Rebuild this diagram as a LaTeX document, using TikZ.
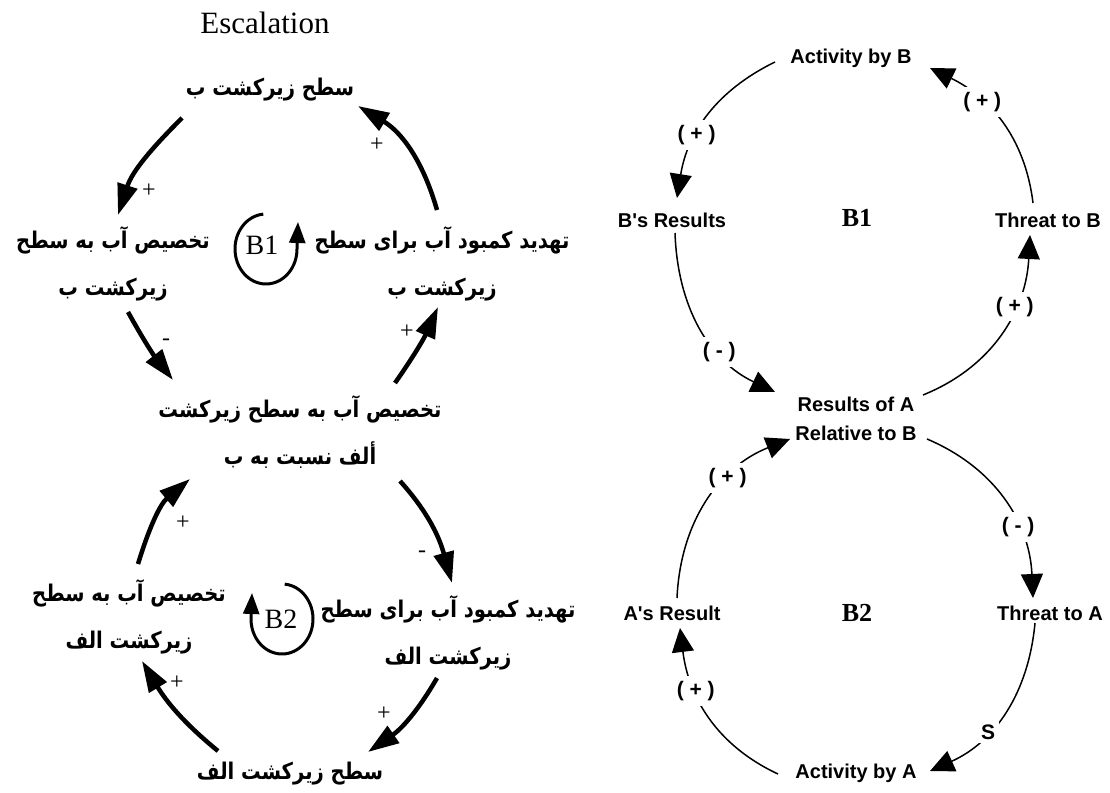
\documentclass[tikz,border=0pt]{standalone}
\usepackage{fontspec}
\setmainfont{Liberation Serif}
\newfontfamily\fa[Script=Arabic,FakeStretch=0.85]{DejaVu Sans}
\newfontfamily\sans{Liberation Sans}
\TeXXeTstate=1
\usetikzlibrary{arrows.meta}
\begin{document}
\begin{tikzpicture}[x=1pt,y=1pt,
  fatext/.style={font=\fontsize{23}{47}\selectfont\fa\bfseries, align=center, inner sep=2pt},
  entext/.style={font=\fontsize{20}{29}\selectfont\sans\bfseries, align=center, inner sep=3pt},
  sign/.style={font=\fontsize{24}{24}\selectfont, inner sep=0pt},
  fat/.style={line width=4.5pt, -{Triangle[length=31pt,width=20pt]}},
  loopar/.style={line width=3pt, -{Triangle[length=21pt,width=16pt]}},
  cld/.style={line width=1.5pt, -{Triangle[length=24pt,width=22pt]}},
  pol/.style={fill=white, inner sep=5pt, font=\fontsize{21}{21}\selectfont\sans\bfseries},
  loopname/.style={font=\fontsize{28}{28}\selectfont},
  rloopname/.style={font=\fontsize{26}{26}\selectfont\bfseries}]
\useasboundingbox (0,0) rectangle (1110,792);

% ---------- left: Persian causal loop diagram ----------
\node[font=\fontsize{31}{31}\selectfont] (title) at (265,769) {Escalation};

\node[fatext] (T1) at (270,702) {\beginR سطح زیرکشت ب\endR};
\node[fatext] (L1) at (113,528.5) {\beginR تخصیص آب به سطح\endR\\\beginR زیرکشت ب\endR};
\node[fatext] (R1) at (442,528.5) {\beginR تهدید کمبود آب برای سطح\endR\\\beginR زیرکشت ب\endR};
\node[fatext] (C) at (300,360) {\beginR تخصیص آب به سطح زیرکشت\endR\\\beginR ألف نسبت به ب\endR};
\node[fatext] (R2) at (448,159.5) {\beginR تهدید کمبود آب برای سطح\endR\\\beginR زیرکشت الف\endR};
\node[fatext] (L2) at (129,175) {\beginR تخصیص آب به سطح\endR\\\beginR زیرکشت الف\endR};
\node[fatext] (T2) at (290,18) {\beginR سطح زیرکشت الف\endR};

% loop markers
\node[loopname] (b1) at (262,547) {B1};
\draw[loopar] ([shift={(4,-4)}]b1.center) ++(95:31pt and 35pt)
  arc[start angle=95,end angle=360,x radius=31pt,y radius=35pt] -- ++(1,27);
\node[loopname] (b2) at (281,173) {B2};
\draw[loopar] ([shift={(1,0)}]b2.center) ++(85:31pt and 35pt)
  arc[start angle=85,end angle=-180,x radius=31pt,y radius=35pt] -- ++(1,26);

% causal links
\draw[fat] ([shift={(-88,-28)}]T1.center) to[out=225,in=72] ([shift={(5,48.5)}]L1.center);
\draw[fat] ([shift={(-5,53.5)}]R1.center) to[out=106,in=329] ([shift={(88,-16)}]T1.center);
\draw[fat] ([shift={(15,-48.5)}]L1.center) to[out=299,in=128] ([shift={(-127,52)}]C.center);
\draw[fat] ([shift={(95,49)}]C.center) to[out=55,in=246] ([shift={(-4,-43.5)}]R1.center);
\draw[fat] ([shift={(100,-49)}]C.center) to[out=312,in=105.5] ([shift={(4,49.5)}]R2.center);
\draw[fat] ([shift={(9,53)}]L2.center) to[out=73,in=220] ([shift={(-110,-47)}]C.center);
\draw[fat] ([shift={(-11,-45.5)}]R2.center) to[out=240,in=34.6] ([shift={(78,22)}]T2.center);
\draw[fat] ([shift={(-72,23)}]T2.center) to[out=140.7,in=301] ([shift={(13,-44)}]L2.center);

% link polarities
\node[sign] (p1) at (149,601) {+};
\node[sign] (p2) at (377,647) {+};
\node[sign] (p3) at (166,450) {-};
\node[sign] (p4) at (407,460) {+};
\node[sign] (p5) at (422,238) {-};
\node[sign] (p6) at (183,269) {+};
\node[sign] (p7) at (384,78) {+};
\node[sign] (p8) at (177,109) {+};

% ---------- right: English causal loop diagram ----------
\node[entext] (AB) at (851,734) {Activity by B};
\node[entext] (BR) at (672,572) {B's Results};
\node[entext] (TB) at (1048,572) {Threat to B};
\node[entext] (RA) at (856,373.5) {Results of A\\Relative to B};
\node[entext] (TA) at (1050,179) {Threat to A};
\node[entext] (AR) at (672,179) {A's Result};
\node[entext] (AA) at (856,19) {Activity by A};
\node[rloopname] (B1r) at (857,574) {B1};
\node[rloopname] (B2r) at (857,179) {B2};

\draw[cld] ([shift={(-76,-4)}]AB.center) to[out=206,in=81]
  node[pol,pos=0.63] (q1) {( + )} ([shift={(5,22)}]BR.center);
\draw[cld] ([shift={(3,-13)}]BR.center) to[out=272,in=154.6]
  node[pol,pos=0.66] (q2) {( - )} ([shift={(-81,26.5)}]RA.center);
\draw[cld] ([shift={(67,23.5)}]RA.center) to[out=22,in=267]
  node[pol,pos=0.65] (q3) {( + )} ([shift={(-18,-15)}]TB.center);
\draw[cld] ([shift={(-15,17)}]TB.center) to[out=97,in=334]
  node[pol,pos=0.66] (q4) {( + )} ([shift={(79,-10)}]AB.center);
\draw[cld] ([shift={(71,-20.5)}]RA.center) to[out=337,in=92.6]
  node[pol,pos=0.65] (q5) {( - )} ([shift={(-17,15)}]TA.center);
\draw[cld] ([shift={(-15,-10)}]TA.center) to[out=264.6,in=24.2]
  node[pol,pos=0.64,inner sep=4pt] (q6) {S} ([shift={(74,2)}]AA.center);
\draw[cld] ([shift={(-78,-1)}]AA.center) to[out=155,in=277]
  node[pol,pos=0.66] (q7) {( + )} ([shift={(8,-15)}]AR.center);
\draw[cld] ([shift={(5,15)}]AR.center) to[out=87.4,in=201.6]
  node[pol,pos=0.65] (q8) {( + )} ([shift={(-66,-20.5)}]RA.center);
\end{tikzpicture}
\end{document}
